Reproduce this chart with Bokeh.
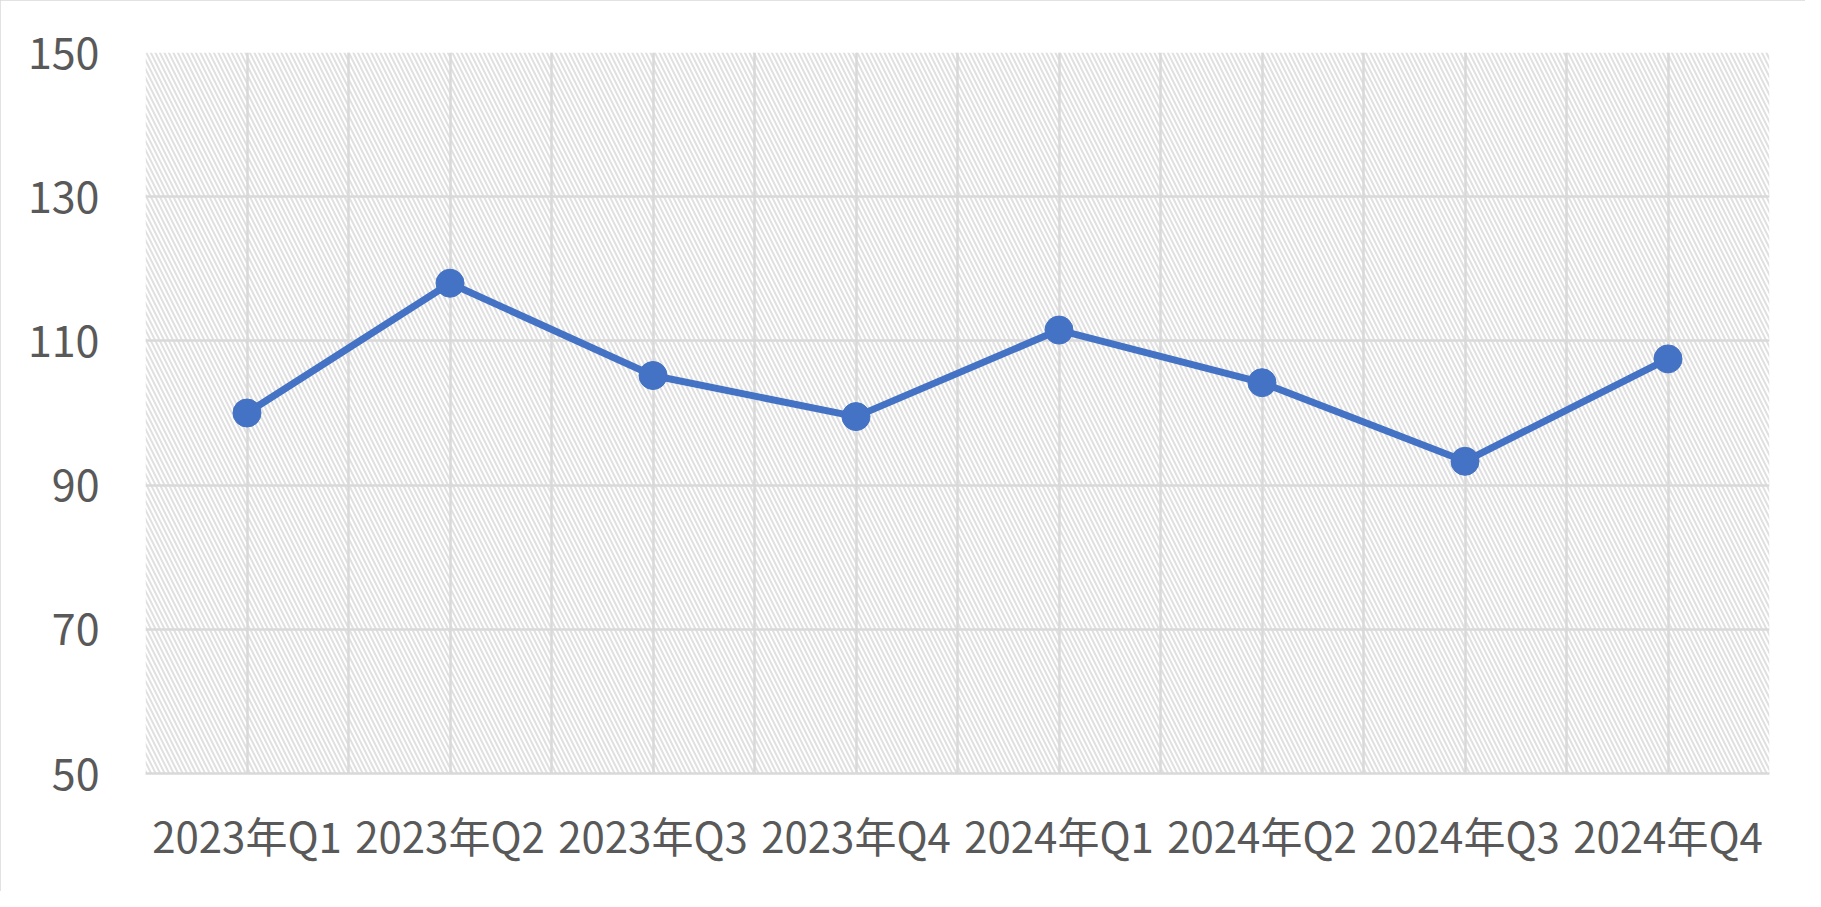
from bokeh.plotting import figure
from bokeh.models import BoxAnnotation, FixedTicker, Range1d
from bokeh.embed import file_html
from bokeh.resources import INLINE

categories = ["2023年Q1", "2023年Q2", "2023年Q3", "2023年Q4",
              "2024年Q1", "2024年Q2", "2024年Q3", "2024年Q4"]
values = [100, 118, 105.2, 99.5, 111.5, 104.2, 93.3, 107.5]
y_ticks = [50, 70, 90, 110, 130, 150]

FONT = "Noto Sans CJK SC"
TXT = "#595959"
GRID = "#d9d9d9"
BLUE = "#4472C4"

xs = list(range(len(categories)))

p = figure(width=1805, height=891, output_backend="svg", toolbar_location=None,
           x_range=Range1d(-0.5, len(categories) - 0.5), y_range=Range1d(50, 150),
           min_border_left=145, min_border_right=36, min_border_top=52,
           min_border_bottom=118)
p.outline_line_color = None
p.background_fill_color = "white"
p.border_fill_color = "white"
p.styles = {"outline": "3px solid #d9d9d9", "outline-offset": "-3px"}

bg = BoxAnnotation(fill_color="white", fill_alpha=1.0, line_color=None,
                   hatch_pattern="\\", hatch_color="#e0e0e0", hatch_scale=9,
                   hatch_weight=2, hatch_alpha=1.0, level="image")
p.add_layout(bg)

# grids
p.xgrid.ticker = FixedTicker(ticks=[i * 0.5 - 0.5 for i in range(2 * len(categories) + 1)])
p.xgrid.grid_line_color = GRID
p.xgrid.grid_line_width = 2.5
p.ygrid.ticker = FixedTicker(ticks=y_ticks)
p.ygrid.grid_line_color = GRID
p.ygrid.grid_line_width = 2.5

# y axis
p.yaxis.ticker = FixedTicker(ticks=y_ticks)
p.yaxis.axis_line_color = None
p.yaxis.major_tick_line_color = None
p.yaxis.minor_tick_line_color = None
p.yaxis.major_label_standoff = 40
p.yaxis.major_label_text_font = FONT
p.yaxis.major_label_text_font_size = "43px"
p.yaxis.major_label_text_color = TXT

# x axis
p.xaxis.ticker = FixedTicker(ticks=xs)
p.xaxis.major_label_overrides = {i: c for i, c in zip(xs, categories)}
p.xaxis.axis_line_color = GRID
p.xaxis.axis_line_width = 2.5
p.xaxis.major_tick_line_color = None
p.xaxis.minor_tick_line_color = None
p.xaxis.major_label_standoff = 24
p.xaxis.major_label_text_font = FONT
p.xaxis.major_label_text_font_size = "42px"
p.xaxis.major_label_text_color = TXT

p.line(xs, values, line_color=BLUE, line_width=7)
p.scatter(xs, values, size=28, fill_color=BLUE, line_color=BLUE)

open("out.html", "w").write(file_html(p, INLINE))
